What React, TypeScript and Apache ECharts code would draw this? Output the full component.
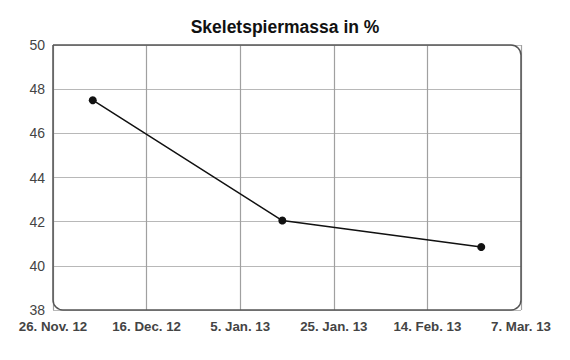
import React, { useEffect, useRef } from "react";
import * as echarts from "echarts";

const title = "Skeletspiermassa in %";
const startDate = "2012-11-26";
const xTickLabels = ["26. Nov. 12", "16. Dec. 12", "5. Jan. 13", "25. Jan. 13", "14. Feb. 13", "7. Mar. 13"];
const measureDates = ["2012-12-04T12:00", "2013-01-14T00:00", "2013-02-25T12:00"];
const measureValues = [47.5, 42.05, 40.85];
const yMin = 38;
const yMax = 50;
const yStep = 2;
const xStepDays = 20;

const DAY = 86400000;
function dayOffset(d: string) {
  return (new Date(d).getTime() - new Date(startDate + "T00:00").getTime()) / DAY;
}

const G = { left: 53, top: 45, width: 468, height: 265 };

export default function App() {
  const ref = useRef<HTMLDivElement>(null);
  useEffect(() => {
    if (!ref.current) return;
    const chart = echarts.init(ref.current, undefined, { renderer: "svg" });
    const data = measureDates.map((d, i) => [dayOffset(d), measureValues[i]]);
    chart.setOption({
      animation: false,
      backgroundColor: "#ffffff",
      title: {
        text: title,
        left: "center",
        top: 13,
        textStyle: { fontFamily: "Liberation Sans", fontWeight: "bold", fontSize: 17.5, color: "#111" },
      },
      grid: { left: G.left, top: G.top, width: G.width, height: G.height, containLabel: false },
      xAxis: {
        type: "value",
        min: 0,
        max: xStepDays * (xTickLabels.length - 1),
        interval: xStepDays,
        axisLine: { show: false },
        axisTick: { show: false },
        splitLine: { show: true, lineStyle: { color: "#a0a0a0", width: 1.2 } },
        axisLabel: {
          margin: 10,
          fontFamily: "Liberation Sans",
          fontWeight: "bold",
          fontSize: 13.3,
          color: "#444",
          showMinLabel: true,
          showMaxLabel: true,
          formatter: (v: number) => xTickLabels[Math.round(v / xStepDays)] ?? "",
        },
      },
      yAxis: {
        type: "value",
        min: yMin,
        max: yMax,
        interval: yStep,
        axisLine: { show: false },
        axisTick: { show: false },
        splitLine: { show: true, lineStyle: { color: "#b8b8b8", width: 1.2 } },
        axisLabel: { margin: 8, fontFamily: "Liberation Sans", fontSize: 14, color: "#444" },
      },
      graphic: [
        {
          type: "rect",
          shape: { x: G.left, y: G.top, width: G.width, height: G.height, r: [0, 10, 10, 10] },
          style: { fill: "none", stroke: "#555", lineWidth: 1.5 },
          z: 10,
          silent: true,
        },
      ],
      series: [
        {
          type: "line",
          data,
          symbol: "circle",
          symbolSize: 8,
          itemStyle: { color: "#111" },
          lineStyle: { color: "#111", width: 1.5 },
          z: 20,
        },
      ],
    });
    return () => chart.dispose();
  }, []);
  return <div ref={ref} style={{ position: "fixed", left: 0, top: 0, width: 570, height: 360 }} />;
}
